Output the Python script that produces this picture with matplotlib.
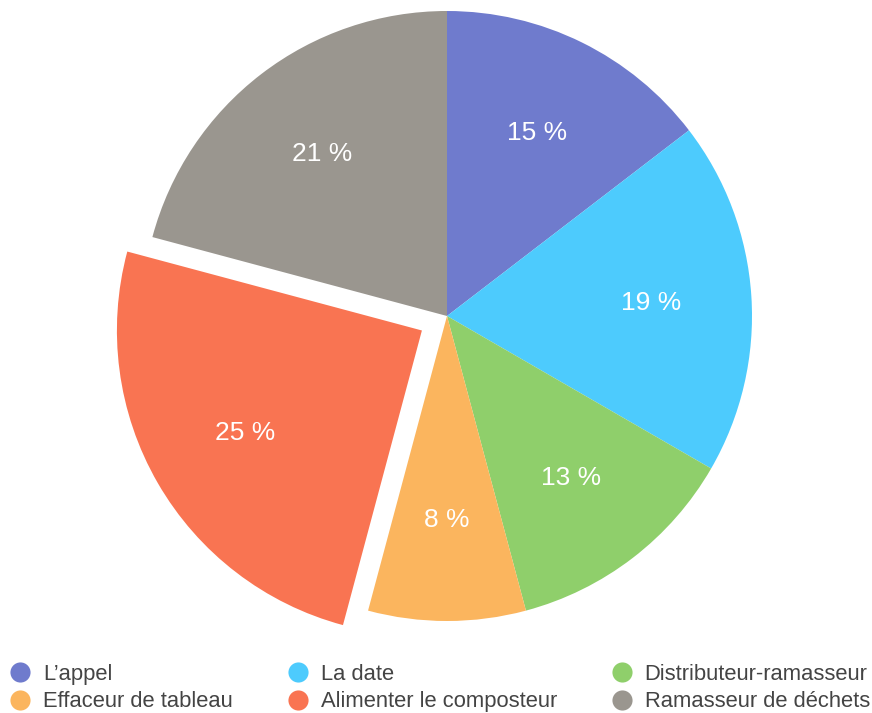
import matplotlib
matplotlib.use("Agg")
import matplotlib.pyplot as plt
from matplotlib.lines import Line2D

categories = ["L\u2019appel", "La date", "Distributeur-ramasseur",
              "Effaceur de tableau", "Alimenter le composteur", "Ramasseur de déchets"]
values = [7, 9, 6, 4, 12, 10]
colors = ["#6F7BCD", "#4DCBFD", "#8FCF6B", "#FBB55E", "#F97452", "#9A968F"]
explode = [0, 0, 0, 0, 0.095, 0]

plt.rcParams['font.family'] = ['Liberation Sans', 'DejaVu Sans']

W, H = 872, 713
fig = plt.figure(figsize=(W / 100, H / 100), dpi=100)
ax = fig.add_axes([0, 0, 1, 1])
cx, cy, R = 447, 316, 305

wedges, texts, autotexts = ax.pie(
    values, colors=colors, explode=explode, startangle=90, counterclock=False,
    autopct=lambda p: f"{int(p + 0.5)} %", pctdistance=0.67,
    textprops=dict(color="white", fontsize=19), radius=1.0,
    wedgeprops=dict(linewidth=0))
ax.set_xlim(-cx / R, (W - cx) / R)
ax.set_ylim(-(H - cy) / R, cy / R)
ax.set_aspect('auto')
ax.axis('off')

order = [0, 3, 1, 4, 2, 5]
handles = [Line2D([], [], marker='o', linestyle='none', markersize=14.5,
                  markerfacecolor=colors[i], markeredgewidth=0) for i in order]
labels = [categories[i] for i in order]
fig.legend(handles, labels, ncol=3, loc='upper left',
           bbox_to_anchor=(9 / W, 1 - 664 / H), frameon=False,
           fontsize=15.8, labelcolor="#444444", handletextpad=0.55,
           columnspacing=2.45, labelspacing=0.29, handlelength=1.0,
           borderaxespad=0, borderpad=0)

fig.savefig("out.png", dpi=100)
